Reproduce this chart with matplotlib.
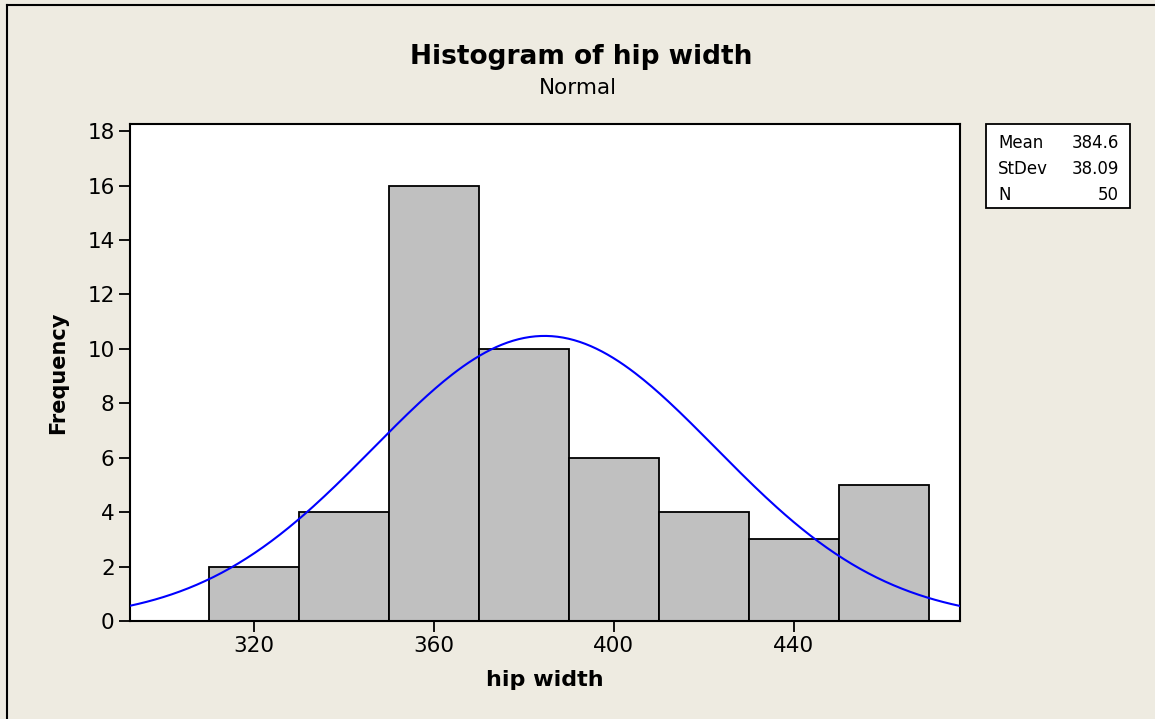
import numpy as np
import matplotlib.pyplot as plt
from matplotlib.lines import Line2D
from matplotlib.patches import Rectangle

# histogram data
bin_edges = [310, 330, 350, 370, 390, 410, 430, 450, 470]
counts = [2, 4, 16, 10, 6, 4, 3, 5]
stat_names = ['Mean', 'StDev', 'N']
stat_values = ['384.6', '38.09', '50']
mean, stdev, n = 384.6, 38.09, 50

bg = '#EEEBE1'
plt.rcParams['font.family'] = 'DejaVu Sans'

fig = plt.figure(figsize=(11.55, 7.19), dpi=100, facecolor=bg)
W, H = 1155, 719
ax = fig.add_axes([130 / W, 1 - 621 / H, 830 / W, 497 / H])
ax.set_facecolor('white')

widths = np.diff(bin_edges)
ax.bar(bin_edges[:-1], counts, width=widths, align='edge',
       color='#C0C0C0', edgecolor='black', linewidth=1.3, zorder=2)

# fitted normal curve scaled to counts
xs = np.linspace(292.4, 477, 300)
scale = n * widths[0]
ys = scale / (stdev * np.sqrt(2 * np.pi)) * np.exp(-0.5 * ((xs - mean) / stdev) ** 2)
ax.plot(xs, ys, color='#0000FF', linewidth=1.5, zorder=3)

ax.set_xlim(292.4, 477)
ax.set_ylim(0, 18.26)
ax.set_xticks([320, 360, 400, 440])
ax.set_yticks(range(0, 19, 2))
ax.tick_params(direction='out', length=8, width=1.3, labelsize=15.5, pad=3)
for s in ax.spines.values():
    s.set_linewidth(1.5)

ax.set_xlabel('hip width', fontsize=16, fontweight='bold', labelpad=10)
ax.set_ylabel('Frequency', fontsize=15, fontweight='bold', labelpad=14)

fig.text(581 / W, 1 - 57 / H, 'Histogram of hip width', ha='center', va='center',
         fontsize=19, fontweight='bold')
fig.text(578 / W, 1 - 88 / H, 'Normal', ha='center', va='center', fontsize=15.5)

# stats box
fig.patches.append(Rectangle((986 / W, 1 - 208 / H), 144 / W, 84 / H,
                             transform=fig.transFigure, facecolor='white',
                             edgecolor='black', linewidth=1.3))
for i, (name, val) in enumerate(zip(stat_names, stat_values)):
    yy = 1 - (143 + 26 * i) / H
    fig.text(998 / W, yy, name, ha='left', va='center', fontsize=12)
    fig.text(1119 / W, yy, val, ha='right', va='center', fontsize=12)

# outer frame (top and left edges visible)
fig.lines.append(Line2D([7 / W, 7 / W], [0, 1 - 5 / H], transform=fig.transFigure,
                        color='black', linewidth=1.5))
fig.lines.append(Line2D([7 / W, 1], [1 - 5 / H, 1 - 5 / H], transform=fig.transFigure,
                        color='black', linewidth=1.5))

fig.savefig('out.png', dpi=100, facecolor=bg)
